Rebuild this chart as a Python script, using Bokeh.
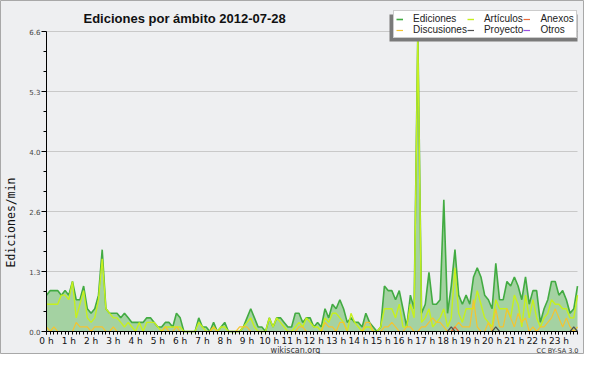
import math
from bokeh.plotting import figure
from bokeh.models import (Range1d, FixedTicker, Legend, LegendItem, Label, ColumnDataSource,
                          BoxAnnotation)
from bokeh.embed import file_html
from bokeh.resources import INLINE

# ---------------- data (10-minute buckets, edits per minute) ----------------
hour_labels = [f"{h} h" for h in range(24)]
y_ticks = [0.0, 1.32, 2.64, 3.96, 5.28, 6.6]
y_labels = ["0.0", "1.3", "2.6", "4.0", "5.3", "6.6"]

ediciones = [
    0.8, 0.9, 0.9, 0.9, 0.8, 0.9, 0.8, 1.1, 0.7, 0.7, 1.0, 0.5,
    0.4, 0.5, 0.8, 1.8, 0.5, 0.4, 0.4, 0.4, 0.3, 0.4, 0.3, 0.2,
    0.2, 0.2, 0.2, 0.3, 0.3, 0.2, 0.1, 0.1, 0.2, 0.2, 0.1, 0.4,
    0.3, 0.0, 0.0, 0.0, 0.0, 0.3, 0.1, 0.1, 0.0, 0.2, 0.0, 0.1,
    0.2, 0.0, 0.0, 0.0, 0.0, 0.1, 0.3, 0.5, 0.3, 0.1, 0.1, 0.0,
    0.3, 0.1, 0.3, 0.3, 0.2, 0.1, 0.1, 0.4, 0.4, 0.2, 0.3, 0.3,
    0.1, 0.2, 0.1, 0.5, 0.3, 0.6, 0.5, 0.7, 0.5, 0.2, 0.3, 0.2,
    0.2, 0.1, 0.4, 0.2, 0.1, 0.0, 0.1, 1.0, 0.9, 0.9, 0.7, 0.9,
    0.5, 0.1, 0.8, 0.5, 6.6, 0.4, 0.6, 1.3, 0.6, 0.6, 0.7, 2.9,
    0.4, 1.0, 1.8, 0.8, 0.6, 0.8, 0.6, 1.2, 1.4, 1.2, 0.8, 0.7,
    0.5, 1.5, 0.7, 0.7, 1.1, 1.0, 1.2, 1.0, 0.7, 1.2, 0.6, 0.9,
    0.9, 0.2, 0.5, 0.7, 1.1, 1.1, 0.8, 0.9, 0.7, 0.4, 0.5, 1.0,
]
articulos = [
    0.6, 0.6, 0.6, 0.6, 0.8, 0.8, 0.7, 1.1, 0.3, 0.6, 0.9, 0.3,
    0.2, 0.3, 0.7, 1.6, 0.5, 0.4, 0.3, 0.3, 0.2, 0.1, 0.2, 0.1,
    0.0, 0.2, 0.0, 0.2, 0.2, 0.2, 0.1, 0.0, 0.1, 0.1, 0.1, 0.1,
    0.1, 0.0, 0.0, 0.0, 0.0, 0.2, 0.1, 0.0, 0.0, 0.1, 0.0, 0.1,
    0.1, 0.0, 0.0, 0.0, 0.0, 0.1, 0.2, 0.3, 0.1, 0.0, 0.0, 0.0,
    0.3, 0.1, 0.3, 0.2, 0.1, 0.0, 0.0, 0.1, 0.2, 0.1, 0.3, 0.2,
    0.1, 0.1, 0.0, 0.3, 0.2, 0.4, 0.4, 0.3, 0.2, 0.0, 0.4, 0.2,
    0.1, 0.0, 0.1, 0.1, 0.0, 0.0, 0.1, 0.5, 0.5, 0.5, 0.3, 0.6,
    0.1, 0.1, 0.6, 0.3, 6.5, 0.2, 0.3, 0.5, 0.1, 0.2, 0.3, 0.5,
    0.1, 0.3, 1.4, 0.4, 0.2, 0.5, 0.5, 0.5, 0.9, 0.6, 0.3, 0.2,
    0.1, 0.7, 0.5, 0.5, 0.5, 0.3, 0.8, 0.6, 0.1, 0.8, 0.3, 0.7,
    0.3, 0.1, 0.3, 0.4, 0.7, 0.6, 0.6, 0.5, 0.5, 0.3, 0.3, 0.8,
]
discusiones = [
    0.1, 0.0, 0.1, 0.0, 0.0, 0.0, 0.0, 0.0, 0.2, 0.1, 0.1, 0.1,
    0.0, 0.1, 0.1, 0.1, 0.0, 0.0, 0.1, 0.0, 0.0, 0.0, 0.0, 0.0,
    0.0, 0.0, 0.0, 0.0, 0.0, 0.0, 0.0, 0.0, 0.1, 0.0, 0.0, 0.1,
    0.0, 0.0, 0.0, 0.0, 0.0, 0.0, 0.0, 0.0, 0.0, 0.1, 0.0, 0.0,
    0.0, 0.0, 0.0, 0.0, 0.1, 0.1, 0.1, 0.0, 0.0, 0.0, 0.0, 0.0,
    0.0, 0.0, 0.0, 0.0, 0.0, 0.0, 0.0, 0.0, 0.1, 0.1, 0.0, 0.0,
    0.0, 0.0, 0.0, 0.2, 0.1, 0.1, 0.0, 0.2, 0.2, 0.0, 0.0, 0.0,
    0.0, 0.0, 0.2, 0.2, 0.0, 0.0, 0.0, 0.1, 0.1, 0.2, 0.1, 0.0,
    0.0, 0.1, 0.1, 0.0, 0.0, 0.1, 0.1, 0.2, 0.3, 0.2, 0.2, 0.1,
    0.0, 0.0, 0.1, 0.2, 0.1, 0.1, 0.1, 0.7, 0.1, 0.0, 0.0, 0.2,
    0.0, 0.5, 0.1, 0.1, 0.5, 0.3, 0.1, 0.4, 0.2, 0.3, 0.0, 0.1,
    0.0, 0.1, 0.1, 0.2, 0.3, 0.5, 0.3, 0.1, 0.3, 0.1, 0.0, 0.1,
]
anexos = [0.0] * 110 + [0.1] + [0.0] * 33
proyecto = [0.0] * 109 + [0.1] + [0.0] * 11 + [0.1] + [0.0] * 20 + [0.1, 0.0]
otros = [0.0] * 144

# ---------------- layout (pixels inside the 584x354 canvas) ----------------
W, H = 584, 354
PLOT_L, PLOT_R, PLOT_T, PLOT_B = 46, 577, 31, 331
hours = [i / 6 for i in range(len(ediciones))]
x_end = hours[-1]
y_top = y_ticks[-1]
px_x = (PLOT_R - PLOT_L) / x_end          # pixels per hour
px_y = (PLOT_B - PLOT_T) / y_top          # pixels per unit
x0 = -PLOT_L / px_x
x1 = x_end + (W - PLOT_R) / px_x
y0 = -(H - PLOT_B) / px_y
y1 = y_top + PLOT_T / px_y

def X(px):
    return x0 + px / px_x

def Y(py):
    return y1 - py / px_y

BG = "#eeeff1"
src = ColumnDataSource(dict(x=hours, ed=ediciones, art=articulos, dis=discusiones,
                            anx=anexos, pro=proyecto, otr=otros))

p = figure(width=W, height=H, output_backend="svg", toolbar_location=None,
           x_range=Range1d(x0, x1), y_range=Range1d(y0, y1), min_border=0)
p.background_fill_color = BG
p.border_fill_color = BG
p.outline_line_color = "#a8a8a8"
p.grid.visible = False

# gridlines (plot area only)
p.segment(x0=0, x1=x_end, y0=y_ticks[1:], y1=y_ticks[1:], line_color="#c9c9c9", line_width=1)

# series
p.varea(x="x", y1=0, y2="ed", source=src, fill_color="#a4d2a2", fill_alpha=1)
r_ed = p.line("x", "ed", source=src, line_color="#42ab42", line_width=1.6)
r_art = p.line("x", "art", source=src, line_color="#c6f01e", line_width=1.4)
r_dis = p.line("x", "dis", source=src, line_color="#f4c430", line_width=1.2)
r_anx = p.line("x", "anx", source=src, line_color="#ec6a3a", line_width=1.2)
r_pro = p.line("x", "pro", source=src, line_color="#505050", line_width=1.2)
r_otr = p.line("x", "otr", source=src, line_color="#9a4fe0", line_width=1.2)

# axes
xa = p.xaxis[0]
xa.fixed_location = 0
xa.bounds = (0, x_end)
xa.ticker = FixedTicker(ticks=list(range(24)), minor_ticks=hours)
xa.major_label_overrides = {h: lab for h, lab in enumerate(hour_labels)}
xa.major_tick_out = 3
xa.major_tick_in = 0
xa.minor_tick_out = 3
xa.minor_tick_in = 0
xa.axis_line_color = "black"
xa.major_tick_line_color = "black"
xa.minor_tick_line_color = "black"
xa.major_label_text_font = "DejaVu Sans"
xa.major_label_text_font_size = "9px"
xa.major_label_text_color = "#111111"
xa.major_label_standoff = 1

ya = p.yaxis[0]
ya.fixed_location = 0
ya.bounds = (0, y_top)
minor_y = []
for k in range(len(y_ticks) - 1):
    step = (y_ticks[k + 1] - y_ticks[k]) / 3
    minor_y += [y_ticks[k] + step, y_ticks[k] + 2 * step]
ya.ticker = FixedTicker(ticks=y_ticks, minor_ticks=minor_y)
ya.major_label_overrides = {t: lab for t, lab in zip(y_ticks, y_labels)}
ya.major_tick_out = 5
ya.major_tick_in = 0
ya.minor_tick_out = 3
ya.minor_tick_in = 0
ya.axis_line_color = "black"
ya.major_label_text_font = "DejaVu Sans"
ya.major_label_text_font_size = "7px"
ya.major_label_text_color = "#444444"
ya.major_label_standoff = 1

# legend shadow (box) + legend
p.add_layout(BoxAnnotation(left=X(389), right=X(577), top=Y(14), bottom=Y(41),
                           fill_color="#7a7a7a", fill_alpha=1, line_color=None))

names = ["Ediciones", "Artículos", "Anexos", "Discusiones", "Proyecto", "Otros"]
rends = [r_ed, r_art, r_anx, r_dis, r_pro, r_otr]
legend = Legend(items=[LegendItem(label=n, renderers=[r]) for n, r in zip(names, rends)],
                location=(393, 316), orientation="horizontal", ncols=3,
                background_fill_color="white", background_fill_alpha=1,
                border_line_color="#9a9a9a", label_text_font="Liberation Sans",
                label_text_font_size="10px", label_text_color="#222222",
                glyph_width=7, glyph_height=8, label_height=8, label_width=10,
                label_standoff=10, spacing=0, padding=2, margin=0)
p.add_layout(legend, "center")

# texts
p.add_layout(Label(x=X(83), y=Y(18), text="Ediciones por ámbito  2012-07-28",
                   text_font="Liberation Sans", text_font_style="bold",
                   text_font_size="13px", text_color="#111111",
                   text_baseline="alphabetic", text_align="left"))
p.add_layout(Label(x=X(10), y=Y(222), text="Ediciones/min", angle=math.pi / 2,
                   text_font="DejaVu Sans Mono", text_font_size="11.5px",
                   text_color="#111111", text_align="center", text_baseline="middle"))
p.add_layout(Label(x=X(295), y=Y(350), text="wikiscan.org", text_font="DejaVu Sans",
                   text_font_size="8px", text_color="#333333", text_align="center",
                   text_baseline="middle"))
p.add_layout(Label(x=X(578), y=Y(350), text="CC BY-SA 3.0", text_font="DejaVu Sans",
                   text_font_size="6.5px", text_color="#333333", text_align="right",
                   text_baseline="middle"))

open("out.html", "w").write(file_html(p, INLINE))
